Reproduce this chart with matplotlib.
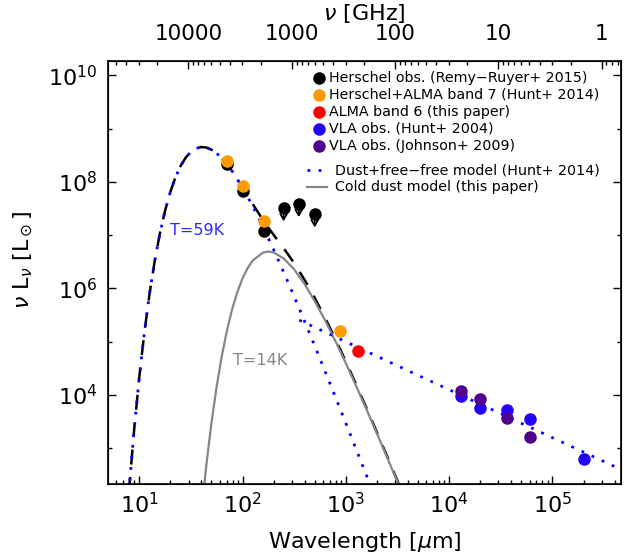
import matplotlib
matplotlib.use("Agg")
import matplotlib.pyplot as plt
import numpy as np
from matplotlib.lines import Line2D
from matplotlib.ticker import FixedLocator, LogLocator, NullFormatter, FuncFormatter

# photometry: wavelength [micron], nu L_nu [L_sun]
herschel_wl = [70, 100, 160]
herschel_lum = [2.2e8, 6.8e7, 1.2e7]
herschel_lim_wl = [250, 350, 500]
herschel_lim_lum = [3.25e7, 3.9e7, 2.5e7]
hunt14_wl = [70, 100, 160, 870]
hunt14_lum = [2.5e8, 8.4e7, 1.85e7, 1.6e5]
alma6_wl = [1300]
alma6_lum = [6.8e4]
vla_hunt_wl = [1.3e4, 2.0e4, 3.6e4, 6.0e4, 2.0e5]
vla_hunt_lum = [9.8e3, 5.6e3, 5.3e3, 3.6e3, 630]
vla_johnson_wl = [1.3e4, 2.0e4, 3.6e4, 6.0e4]
vla_johnson_lum = [1.2e4, 8.4e3, 3.7e3, 1.6e3]

# model curves (log10 wavelength, log10 nu L_nu)
warm_logwl = [0.9, 0.95, 1.0, 1.05, 1.1, 1.15, 1.2, 1.25, 1.3, 1.35, 1.4, 1.45,
              1.5, 1.55, 1.6, 1.65, 1.7, 1.75, 1.8, 1.9, 2.0, 2.1, 2.2, 2.3,
              2.4, 2.5, 2.6, 2.7, 2.8, 2.9, 3.0, 3.1, 3.2, 3.3, 3.4, 3.5, 3.6]
warm_loglum = [2.181, 3.331, 4.323, 5.175, 5.901, 6.516, 7.032, 7.458, 7.806,
               8.083, 8.298, 8.456, 8.565, 8.629, 8.655, 8.645, 8.604, 8.536,
               8.445, 8.201, 7.895, 7.540, 7.151, 6.735, 6.299, 5.849, 5.387,
               4.917, 4.440, 3.959, 3.473, 2.984, 2.493, 2.000, 1.506, 1.010, 0.514]
# warm + cold dust (black dashed), same wavelength grid
dust_loglum = [2.181, 3.331, 4.323, 5.175, 5.901, 6.516, 7.032, 7.458, 7.806,
               8.083, 8.298, 8.456, 8.565, 8.629, 8.655, 8.645, 8.604, 8.536,
               8.445, 8.202, 7.903, 7.580, 7.277, 7.009, 6.751, 6.475, 6.164,
               5.819, 5.444, 5.046, 4.629, 4.198, 3.756, 3.306, 2.848, 2.387, 1.920]
cold_logwl = [1.6, 1.65, 1.7, 1.75, 1.8, 1.85, 1.9, 1.95, 2.0, 2.05, 2.1, 2.2,
              2.25, 2.3, 2.4, 2.5, 2.6, 2.7, 2.8, 2.9, 3.0, 3.1, 3.2, 3.3, 3.4,
              3.5, 3.6]
cold_loglum = [1.761, 2.690, 3.487, 4.165, 4.738, 5.217, 5.613, 5.934, 6.189,
               6.384, 6.527, 6.676, 6.693, 6.678, 6.562, 6.358, 6.085, 5.761,
               5.399, 5.009, 4.598, 4.171, 3.732, 3.284, 2.828, 2.368, 1.903]
ff_logwl = [2.55, 5.7]
ff_loglum = [5.405, 2.57]

BLUE = "#0000FF"
ORANGE = "#FF9A00"
PURPLE = "#52008C"
VLA_BLUE = "#2200FF"
GREY = "#868686"

W, H = 624, 557
fig = plt.figure(figsize=(W / 100, H / 100), dpi=100)
ax_l, ax_r, ax_t, ax_b = 108.3, 621.0, 61.0, 484.0
ax = fig.add_axes([ax_l / W, 1 - ax_b / H, (ax_r - ax_l) / W, (ax_b - ax_t) / H])

def tofig(x, y):
    return x / W, 1 - y / H

# model lines
ax.plot(10 ** np.array(warm_logwl), 10 ** np.array(dust_loglum), color="k",
        lw=1.8, dashes=(6, 5), zorder=2)
ax.plot(10 ** np.array(cold_logwl), 10 ** np.array(cold_loglum), color=GREY,
        lw=1.6, zorder=2)
ax.plot(10 ** np.array(warm_logwl), 10 ** np.array(warm_loglum), color=BLUE,
        lw=2, dashes=(1, 3), zorder=2.5)
ax.plot(10 ** np.array(ff_logwl), 10 ** np.array(ff_loglum), color=BLUE,
        lw=2, dashes=(1, 3), zorder=2.5)

# data points
ms = 8
for wl, lum in zip(herschel_lim_wl, herschel_lim_lum):
    ax.annotate("", xy=(wl, lum * 10 ** -0.25), xytext=(wl, lum),
                arrowprops=dict(arrowstyle="->,head_length=0.5,head_width=0.3",
                                color="k", lw=1.3, shrinkA=0, shrinkB=0,
                                mutation_scale=8),
                zorder=3)
ax.plot(herschel_lim_wl, herschel_lim_lum, "o", color="k", ms=ms, zorder=4)
ax.plot(herschel_wl, herschel_lum, "o", color="k", ms=ms, zorder=4)
ax.plot(hunt14_wl, hunt14_lum, "o", color=ORANGE, ms=ms, zorder=5)
ax.plot(alma6_wl, alma6_lum, "o", color="#FF0000", ms=ms, zorder=5)
ax.plot(vla_hunt_wl, vla_hunt_lum, "o", color=VLA_BLUE, ms=ms, zorder=5)
ax.plot(vla_johnson_wl, vla_johnson_lum, "o", color=PURPLE, ms=ms, zorder=6)

ax.text(19.9, 1.2e7, "T=59K", color="#2A2AFF", fontsize=11.5, va="center")
ax.text(80.9, 4.4e4, "T=14K", color=GREY, fontsize=11.5, va="center")

# axes
xmin, xmax = 5.02, 4.61e5
ax.set_xscale("log")
ax.set_yscale("log")
ax.set_xlim(xmin, xmax)
ax.set_ylim(214, 1.86e10)

ax.xaxis.set_major_locator(FixedLocator([1e1, 1e2, 1e3, 1e4, 1e5]))
ax.xaxis.set_minor_locator(LogLocator(base=10, subs=np.arange(2, 10), numticks=20))
ax.xaxis.set_minor_formatter(NullFormatter())
ax.yaxis.set_major_locator(FixedLocator([1e4, 1e6, 1e8, 1e10]))
ax.yaxis.set_minor_locator(FixedLocator([1e3, 1e5, 1e7, 1e9]))
ax.yaxis.set_minor_formatter(NullFormatter())
ax.tick_params(which="both", direction="in", top=False, right=True,
               labelsize=16, width=1)
ax.tick_params(which="major", length=6)
ax.tick_params(which="minor", length=3.2)
ax.tick_params(axis="x", pad=6)
ax.tick_params(axis="y", pad=8)
for s in ax.spines.values():
    s.set_linewidth(1.2)

ax.set_xlabel(r"Wavelength [$\mu$m]", fontsize=16, labelpad=9)
ax.set_ylabel(r"$\nu$ L$_\nu$ [L$_\odot$]", fontsize=16)
ax.yaxis.set_label_coords((35 - ax_l) / (ax_r - ax_l), (ax_b - 260) / (ax_b - ax_t))

c_ghz = 2.998e5
ax2 = ax.twiny()
ax2.set_xscale("log")
ax2.set_xlim(c_ghz / xmin, c_ghz / xmax)
ax2.xaxis.set_major_locator(FixedLocator([1e4, 1e3, 1e2, 1e1, 1]))
ax2.xaxis.set_major_formatter(FuncFormatter(lambda v, p: "%d" % round(v)))
ax2.xaxis.set_minor_locator(LogLocator(base=10, subs=np.arange(2, 10), numticks=20))
ax2.xaxis.set_minor_formatter(NullFormatter())
ax2.tick_params(which="both", direction="in", labelsize=15.5, width=1)
ax2.tick_params(which="major", length=6, pad=12)
ax2.tick_params(which="minor", length=3.2)
ax2.set_xlabel(r"$\nu$ [GHz]", fontsize=16, labelpad=3)

# legend
marker_entries = [("k", "Herschel obs. (Remy\u2212Ruyer+ 2015)"),
                  (ORANGE, "Herschel+ALMA band 7 (Hunt+ 2014)"),
                  ("#FF0000", "ALMA band 6 (this paper)"),
                  (VLA_BLUE, "VLA obs. (Hunt+ 2004)"),
                  (PURPLE, "VLA obs. (Johnson+ 2009)")]
for i, (col, lab) in enumerate(marker_entries):
    yy = 78 + 17 * i
    fig.add_artist(Line2D([319 / W], [1 - yy / H], marker="o", color=col, ms=ms,
                          transform=fig.transFigure))
    fig.text(*tofig(329, yy), lab, fontsize=10.3, va="center")

line_entries = [(dict(color=BLUE, lw=2, dashes=(1, 3)), "Dust+free\u2212free model (Hunt+ 2014)"),
                (dict(color=GREY, lw=1.6), "Cold dust model (this paper)")]
for i, (kw, lab) in enumerate(line_entries):
    yy = 170 + 17 * i
    fig.add_artist(Line2D([307 / W, 327 / W], [1 - yy / H] * 2,
                          transform=fig.transFigure, **kw))
    fig.text(*tofig(335, yy), lab, fontsize=10.3, va="center")

fig.savefig("out.png", dpi=100)
